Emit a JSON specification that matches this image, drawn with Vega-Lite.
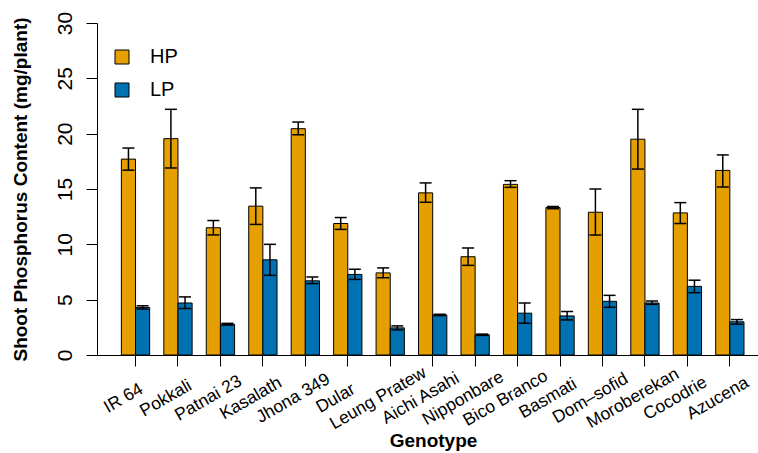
{
  "$schema": "https://vega.github.io/schema/vega-lite/v6.json",
  "width": 661,
  "height": 332,
  "padding": {"left": 97, "top": 23, "right": 0, "bottom": 98},
  "autosize": {"type": "none"},
  "config": {"view": {"stroke": null}, "font": "Liberation Sans"},
  "data": {"values": [
    {"Genotype": "IR 64", "Type": "HP", "value": 17.7, "lo": 16.7, "hi": 18.7},
    {"Genotype": "IR 64", "Type": "LP", "value": 4.3, "lo": 4.15, "hi": 4.45},
    {"Genotype": "Pokkali", "Type": "HP", "value": 19.55, "lo": 16.9, "hi": 22.2},
    {"Genotype": "Pokkali", "Type": "LP", "value": 4.7, "lo": 4.2, "hi": 5.25},
    {"Genotype": "Patnai 23", "Type": "HP", "value": 11.5, "lo": 10.85, "hi": 12.15},
    {"Genotype": "Patnai 23", "Type": "LP", "value": 2.78, "lo": 2.7, "hi": 2.86},
    {"Genotype": "Kasalath", "Type": "HP", "value": 13.45, "lo": 11.8, "hi": 15.1},
    {"Genotype": "Kasalath", "Type": "LP", "value": 8.6, "lo": 7.2, "hi": 10.0},
    {"Genotype": "Jhona 349", "Type": "HP", "value": 20.45, "lo": 19.9, "hi": 21.05},
    {"Genotype": "Jhona 349", "Type": "LP", "value": 6.7, "lo": 6.45, "hi": 7.05},
    {"Genotype": "Dular", "Type": "HP", "value": 11.88, "lo": 11.35, "hi": 12.42},
    {"Genotype": "Dular", "Type": "LP", "value": 7.28, "lo": 6.83, "hi": 7.75},
    {"Genotype": "Leung Pratew", "Type": "HP", "value": 7.42, "lo": 6.98, "hi": 7.87},
    {"Genotype": "Leung Pratew", "Type": "LP", "value": 2.45, "lo": 2.27, "hi": 2.63},
    {"Genotype": "Aichi Asahi", "Type": "HP", "value": 14.65, "lo": 13.8, "hi": 15.55},
    {"Genotype": "Aichi Asahi", "Type": "LP", "value": 3.62, "lo": 3.56, "hi": 3.68},
    {"Genotype": "Nipponbare", "Type": "HP", "value": 8.88, "lo": 8.1, "hi": 9.67},
    {"Genotype": "Nipponbare", "Type": "LP", "value": 1.83, "lo": 1.77, "hi": 1.89},
    {"Genotype": "Bico Branco", "Type": "HP", "value": 15.42, "lo": 15.15, "hi": 15.75},
    {"Genotype": "Bico Branco", "Type": "LP", "value": 3.78, "lo": 2.87, "hi": 4.7},
    {"Genotype": "Basmati", "Type": "HP", "value": 13.32, "lo": 13.22, "hi": 13.42},
    {"Genotype": "Basmati", "Type": "LP", "value": 3.53, "lo": 3.17, "hi": 3.93},
    {"Genotype": "Dom–sofid", "Type": "HP", "value": 12.9, "lo": 10.84, "hi": 15.0},
    {"Genotype": "Dom–sofid", "Type": "LP", "value": 4.85, "lo": 4.31, "hi": 5.39},
    {"Genotype": "Moroberekan", "Type": "HP", "value": 19.5, "lo": 16.8, "hi": 22.2},
    {"Genotype": "Moroberekan", "Type": "LP", "value": 4.7, "lo": 4.58, "hi": 4.88},
    {"Genotype": "Cocodrie", "Type": "HP", "value": 12.84, "lo": 11.88, "hi": 13.77},
    {"Genotype": "Cocodrie", "Type": "LP", "value": 6.2, "lo": 5.63, "hi": 6.76},
    {"Genotype": "Azucena", "Type": "HP", "value": 16.68, "lo": 15.18, "hi": 18.08},
    {"Genotype": "Azucena", "Type": "LP", "value": 3.0, "lo": 2.78, "hi": 3.2}
  ]},
  "encoding": {
    "x": {
      "field": "Genotype", "type": "nominal", "sort": null,
      "scale": {"paddingInner": 0.3333, "paddingOuter": 0.452, "align": 0.635},
      "axis": {
        "title": "Genotype", "labelAngle": -30, "labelAlign": "center", "labelBaseline": "middle",
        "labelPadding": 32, "labelOffset": -12, "labelFontSize": 17.5, "labelColor": "black",
        "labelOverlap": false, "labelBound": false,
        "tickSize": 11, "tickColor": "black", "tickWidth": 1, "domainColor": "black", "domainWidth": 1,
        "titleFontSize": 19, "titleFontWeight": "bold", "titleColor": "black",
        "titleX": 336, "titleY": 85, "titleBaseline": "middle", "titleAlign": "center"
      }
    },
    "xOffset": {"field": "Type", "type": "nominal", "scale": {"paddingInner": 0, "paddingOuter": 0}}
  },
  "layer": [
    {
      "mark": {"type": "bar", "stroke": "black", "strokeWidth": 1},
      "encoding": {
        "y": {
          "field": "value", "type": "quantitative",
          "scale": {"domain": [0, 30], "nice": false},
          "axis": {
            "title": "Shoot Phosphorus Content (mg/plant)", "values": [0, 5, 10, 15, 20, 25, 30],
            "grid": false, "domainColor": "black", "domainWidth": 1, "tickColor": "black", "tickWidth": 1,
            "tickSize": 11, "labelAngle": -90, "labelAlign": "center", "labelBaseline": "middle",
            "labelPadding": 21, "labelFontSize": 21, "labelColor": "black",
            "titleFontSize": 19, "titleFontWeight": "bold", "titleColor": "black",
            "titleX": -77, "titleY": 166, "titleAngle": -90, "titleBaseline": "middle", "titleAlign": "center"
          }
        },
        "color": {
          "field": "Type", "type": "nominal",
          "scale": {"domain": ["HP", "LP"], "range": ["#E69F00", "#0072B2"]},
          "legend": {
            "title": null, "orient": "none", "legendX": 15, "legendY": 24, "padding": 0,
            "symbolType": "square", "symbolSize": 196, "symbolStrokeColor": "black", "symbolStrokeWidth": 1,
            "symbolOpacity": 1, "labelFontSize": 20, "labelColor": "black", "labelOffset": 18, "rowPadding": 13
          }
        }
      }
    },
    {
      "mark": {"type": "rule", "color": "black", "strokeWidth": 1.5},
      "encoding": {"y": {"field": "lo", "type": "quantitative"}, "y2": {"field": "hi"}}
    },
    {
      "mark": {"type": "tick", "color": "black", "thickness": 1.5, "size": 12, "opacity": 1},
      "encoding": {"y": {"field": "lo", "type": "quantitative"}}
    },
    {
      "mark": {"type": "tick", "color": "black", "thickness": 1.5, "size": 12, "opacity": 1},
      "encoding": {"y": {"field": "hi", "type": "quantitative"}}
    }
  ]
}
